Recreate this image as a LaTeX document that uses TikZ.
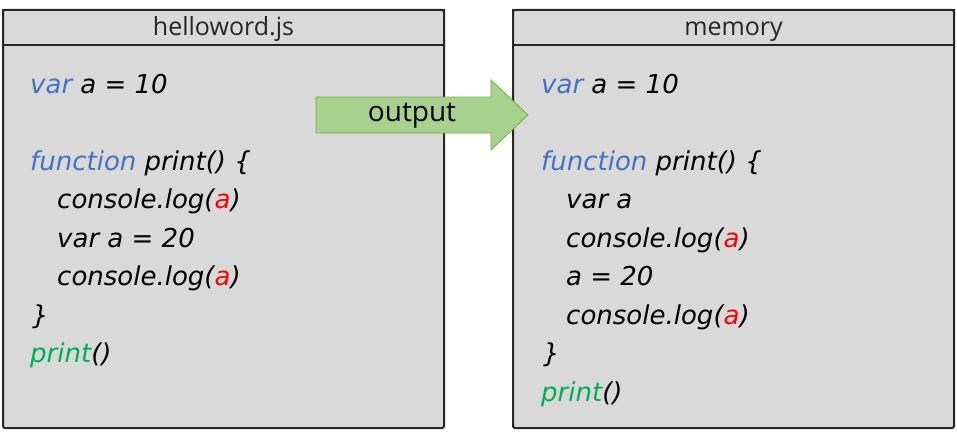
\documentclass[tikz,border=0pt]{standalone}
\usepackage{fontspec}
\setmainfont{Open Sans}
\newfontfamily\codefont{DejaVu Sans}
\usepackage{xcolor}
\definecolor{panelgray}{HTML}{D9D9D9}
\definecolor{edgegray}{HTML}{262626}
\definecolor{arrowgreen}{HTML}{A9D18E}
\definecolor{arrowedge}{HTML}{70AD47}
\definecolor{kwblue}{HTML}{4472C4}
\definecolor{varred}{HTML}{FF0000}
\definecolor{callgreen}{HTML}{00B050}
\usetikzlibrary{positioning}
\newcommand{\kw}[1]{\textcolor{kwblue}{#1}}
\newcommand{\vr}[1]{\textcolor{varred}{#1}}
\newcommand{\cl}[1]{\textcolor{callgreen}{#1}}
\tikzset{
  panelbox/.style={draw=edgegray,line width=2pt,fill=panelgray,rounded corners=2pt,
    minimum width=441pt,minimum height=418pt,anchor=north west,inner sep=0pt},
  headbox/.style={draw=edgegray,line width=2pt,minimum width=441pt,minimum height=35pt,
    anchor=north west,inner sep=0pt,text height=20pt,text depth=3pt,
    text=edgegray,font=\fontsize{25}{28}\selectfont},
  codeline/.style={anchor=base west,inner sep=0pt,font=\codefont\itshape\fontsize{26}{30}\selectfont},
  arrowbox/.style={draw=arrowedge,line width=0.8pt,fill=arrowgreen}
}

\begin{document}
\begin{tikzpicture}[x=1pt,y=-1pt]
  \useasboundingbox (0,0) rectangle (957,436);
  % source file
  \node[panelbox] (leftpanel) at (2,9) {};
  \node[headbox] (lefthead) at (leftpanel.north west) {helloword.js};
  \node[codeline] (l1) at (30,93) {\kw{var} a = 10};
  \node[codeline] (l2) at (30,170) {\kw{function} print() \{};
  \node[codeline] (l3) at (57,208.5) {console.log(\vr{a})};
  \node[codeline] (l4) at (57,247) {var a = 20};
  \node[codeline] (l5) at (57,285.5) {console.log(\vr{a})};
  \node[codeline] (l6) at (32,324) {\}};
  \node[codeline] (l7) at (30,362.5) {\cl{print}()};
  % hoisted memory
  \node[panelbox] (rightpanel) at (512,9) {};
  \node[headbox] (righthead) at (rightpanel.north west) {memory};
  \node[codeline] (r1) at (541,93) {\kw{var} a = 10};
  \node[codeline] (r2) at (541,170) {\kw{function} print() \{};
  \node[codeline] (r3) at (566,208.5) {var a};
  \node[codeline] (r4) at (566,247) {console.log(\vr{a})};
  \node[codeline] (r5) at (566,285.5) {a = 20};
  \node[codeline] (r6) at (566,324) {console.log(\vr{a})};
  \node[codeline] (r7) at (543,362.5) {\}};
  \node[codeline] (r8) at (541,401) {\cl{print}()};
  % output arrow
  \draw[arrowbox] (316,97) -- (491,97) -- (491,80) -- (528,115) -- (491,150)
    -- (491,133) -- (316,133) -- cycle;
  \node[font=\fontsize{28}{32}\selectfont] (outlabel) at (412,116) {output};
\end{tikzpicture}
\end{document}
